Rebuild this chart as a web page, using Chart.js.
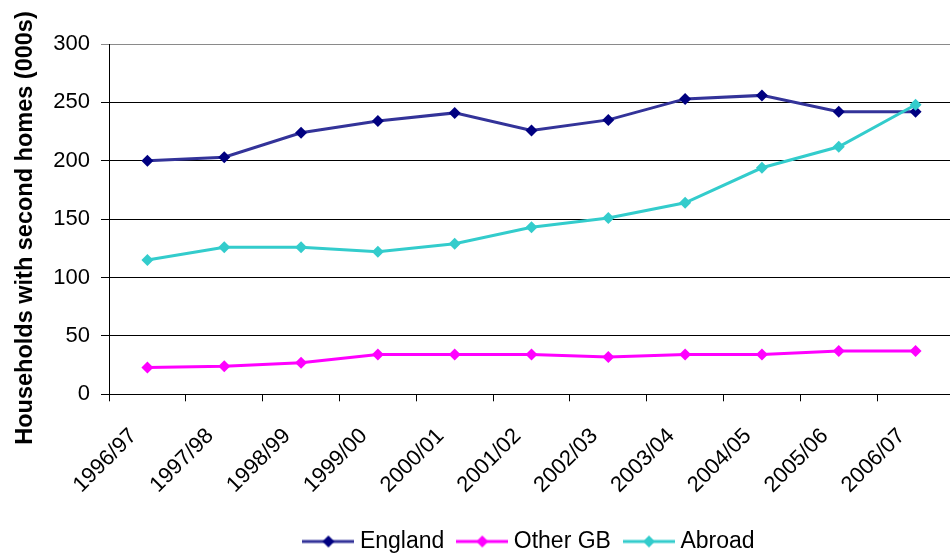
<!DOCTYPE html>
<html>
<head>
<meta charset="utf-8">
<script src="https://cdn.jsdelivr.net/npm/chart.js@4/dist/chart.umd.min.js"></script>
<style>
  html, body { margin: 0; padding: 0; background: #fff; overflow: hidden; }
  #wrap { position: absolute; left: 0; top: 0; width: 960px; height: 563px; }
</style>
</head>
<body>
<div id="wrap"><canvas id="chart"></canvas></div>
<script>
// Households with second homes, thousands, by survey year
const categories = ['1996/97', '1997/98', '1998/99', '1999/00', '2000/01', '2001/02',
                    '2002/03', '2003/04', '2004/05', '2005/06', '2006/07'];
const england = [200, 203, 224, 234, 241, 226, 235, 253, 256, 242, 242];
const otherGB = [23, 24, 27, 34, 34, 34, 32, 34, 34, 37, 37];
const abroad  = [115, 126, 126, 122, 129, 143, 151, 164, 194, 212, 248];
const yTicks  = [0, 50, 100, 150, 200, 250, 300];
const yTitle  = 'Households with second homes (000s)';

const FONT = '"Liberation Sans", Arial, sans-serif';

// Legend swatch: a short line with a diamond marker in the middle
function swatch(lineColor, markColor) {
  const c = document.createElement('canvas');
  c.width = 52; c.height = 14;
  const g = c.getContext('2d');
  g.strokeStyle = lineColor; g.lineWidth = 3;
  g.beginPath(); g.moveTo(0, 7); g.lineTo(52, 7); g.stroke();
  g.fillStyle = markColor;
  g.beginPath(); g.moveTo(26, 1); g.lineTo(32, 7); g.lineTo(26, 13); g.lineTo(20, 7); g.closePath(); g.fill();
  return c;
}

const series = [
  { label: 'England',  data: england, line: '#333399', mark: '#000080', order: 2 },
  { label: 'Other GB', data: otherGB, line: '#FF00FF', mark: '#FF00FF', order: 1 },
  { label: 'Abroad',   data: abroad,  line: '#33CCCC', mark: '#33CCCC', order: 0 }
];

// Rotated value-axis title, placed a little below the plot's vertical centre
const yTitlePlugin = {
  id: 'yTitle',
  afterDraw(chart) {
    const ctx = chart.ctx;
    ctx.save();
    ctx.translate(26, 228);
    ctx.rotate(-Math.PI / 2);
    ctx.font = 'bold 23.5px ' + FONT;
    ctx.fillStyle = '#000';
    ctx.textAlign = 'center';
    ctx.textBaseline = 'middle';
    ctx.fillText(yTitle, 0, 0);
    ctx.restore();
  }
};

new Chart(document.getElementById('chart'), {
  type: 'line',
  data: {
    labels: categories,
    datasets: series.map(s => ({
      label: s.label,
      data: s.data,
      order: s.order,
      borderColor: s.line,
      borderWidth: 3,
      pointStyle: 'rectRot',
      pointRadius: 6,
      pointBackgroundColor: s.mark,
      pointBorderColor: s.mark,
      pointBorderWidth: 0,
      tension: 0,
      fill: false
    }))
  },
  plugins: [yTitlePlugin],
  options: {
    responsive: true,
    maintainAspectRatio: false,
    animation: false,
    layout: { padding: { top: 44, right: 3.5, left: 0, bottom: 0 } },
    scales: {
      x: {
        offset: true,
        grid: {
          offset: true,
          drawOnChartArea: false,
          drawTicks: true,
          tickLength: 7,
          color: '#000'
        },
        border: { color: '#000', width: 1 },
        ticks: {
          color: '#000',
          font: { family: FONT, size: 22 },
          minRotation: 45,
          maxRotation: 45,
          padding: 22,
          labelOffset: -14,
          autoSkip: false
        },
        afterFit: scale => { scale.height = 117.7; }
      },
      y: {
        min: 0,
        max: 300,
        afterBuildTicks: scale => { scale.ticks = yTicks.map(v => ({ value: v })); },
        grid: {
          color: ctx => (ctx.tick && ctx.tick.value === 300 ? '#8a8a8a' : '#000'),
          lineWidth: 1,
          tickLength: 8
        },
        border: { color: '#000', width: 1 },
        ticks: {
          color: '#000',
          font: { family: FONT, size: 22 },
          padding: 11
        },
        afterFit: scale => { scale.width = 109; }
      }
    },
    plugins: {
      tooltip: { enabled: false },
      legend: {
        position: 'bottom',
        fullSize: false,
        labels: {
          usePointStyle: true,
          pointStyleWidth: 40,
          padding: 18,
          color: '#000',
          font: { family: FONT, size: 23 },
          sort: (a, b) => a.datasetIndex - b.datasetIndex,
          generateLabels: chart => chart.data.datasets.map((ds, i) => ({
            text: ds.label,
            datasetIndex: i,
            fontColor: '#000',
            fillStyle: ds.borderColor,
            strokeStyle: ds.borderColor,
            lineWidth: 0,
            hidden: !chart.isDatasetVisible(i),
            pointStyle: swatch(series[i].line, series[i].mark)
          }))
        }
      }
    }
  }
});
</script>
</body>
</html>
